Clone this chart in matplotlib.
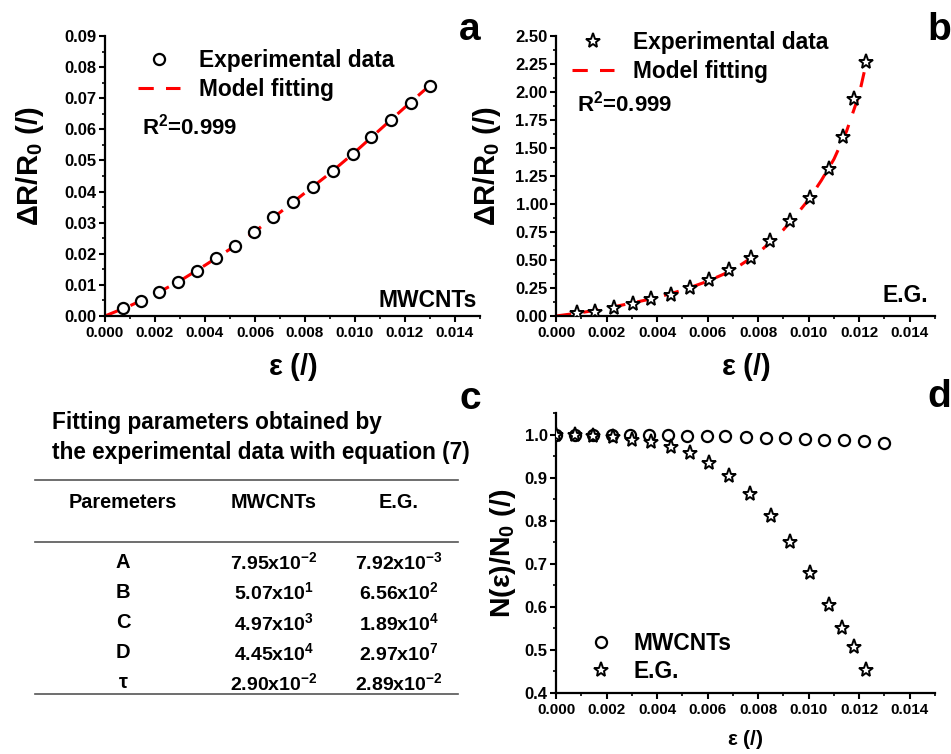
import numpy as np
import matplotlib.pyplot as plt
from matplotlib.ticker import MultipleLocator

plt.rcParams['font.family'] = ['Liberation Sans', 'DejaVu Sans']
plt.rcParams['font.weight'] = 'bold'
plt.rcParams['mathtext.default'] = 'regular'

# panel a: MWCNTs
a_x = [0.0007, 0.00142, 0.00217, 0.00291, 0.00366, 0.00443, 0.0052, 0.00594, 0.00672,
       0.00751, 0.00831, 0.00911, 0.0099, 0.01065, 0.01144, 0.01223, 0.0130]
a_y = [0.0025, 0.0049, 0.0078, 0.0110, 0.0146, 0.0186, 0.0226, 0.0271, 0.0317,
       0.0365, 0.0415, 0.0466, 0.0521, 0.0575, 0.0631, 0.0684, 0.0739]
a_fit_x = [0.0, 0.001, 0.002, 0.003, 0.004, 0.005, 0.006, 0.007, 0.008, 0.009, 0.010,
           0.011, 0.012, 0.013]
a_fit_y = [0.0, 0.0033, 0.0070, 0.0113, 0.0163, 0.0215, 0.0272, 0.0333, 0.0396, 0.0459,
           0.0527, 0.0599, 0.0671, 0.0742]

# panel b: E.G.
b_x = [0.00082, 0.00155, 0.00228, 0.00303, 0.00377, 0.00457, 0.00532, 0.00605, 0.00685,
       0.00771, 0.00848, 0.00927, 0.01007, 0.01082, 0.01135, 0.01179, 0.01225]
b_y = [0.024, 0.039, 0.068, 0.107, 0.149, 0.188, 0.253, 0.321, 0.41, 0.52, 0.673, 0.851,
       1.05, 1.31, 1.595, 1.935, 2.27]
b_fit_x = [0.0, 0.001, 0.002, 0.003, 0.004, 0.005, 0.006, 0.007, 0.008, 0.009, 0.0095,
           0.010, 0.0105, 0.011, 0.0115, 0.012, 0.0123]
b_fit_y = [0.0, 0.03, 0.07, 0.115, 0.165, 0.23, 0.31, 0.41, 0.56, 0.77, 0.90, 1.04,
           1.21, 1.40, 1.65, 1.98, 2.28]

# panel d: N(eps)/N0
d_m_x = [0.0, 0.00077, 0.00148, 0.0022, 0.00293, 0.00369, 0.00445, 0.0052, 0.00597,
         0.0067, 0.0075, 0.0083, 0.00908, 0.00987, 0.01062, 0.01141, 0.0122, 0.01297]
d_m_y = [1.0, 1.0, 1.0, 1.0, 1.0, 0.9985, 0.998, 0.9975, 0.996, 0.9955, 0.9945, 0.993,
         0.9915, 0.990, 0.988, 0.9865, 0.9845, 0.9815]
d_e_x = [0.0, 0.00077, 0.00148, 0.00225, 0.003, 0.00377, 0.00455, 0.00532, 0.00605,
         0.00685, 0.00768, 0.0085, 0.00927, 0.01006, 0.01079, 0.01132, 0.01178, 0.01225]
d_e_y = [1.0, 0.998, 0.996, 0.994, 0.988, 0.982, 0.970, 0.956, 0.934, 0.903, 0.862,
         0.810, 0.750, 0.678, 0.605, 0.551, 0.506, 0.453]

# table c
tab_cols = ["Paremeters", "MWCNTs", "E.G."]
tab_rows = ["A", "B", "C", "D", r"$\tau$"]
tab_mw = [("7.95", "-2"), ("5.07", "1"), ("4.97", "3"), ("4.45", "4"), ("2.90", "-2")]
tab_eg = [("7.92", "-3"), ("6.56", "2"), ("1.89", "4"), ("2.97", "7"), ("2.89", "-2")]

W, H = 951, 754
fig = plt.figure(figsize=(W / 100, H / 100), dpi=100)


def px_axes(l, t, r, b):
    return fig.add_axes([l / W, 1 - b / H, (r - l) / W, (b - t) / H])


def style(ax, ymaj, ymin, yfmt):
    for s in ["top", "right"]:
        ax.spines[s].set_visible(False)
    for s in ["left", "bottom"]:
        ax.spines[s].set_linewidth(1.6)
    ax.set_xlim(0, 0.015)
    ax.xaxis.set_major_locator(MultipleLocator(0.002))
    ax.xaxis.set_minor_locator(MultipleLocator(0.001))
    ax.yaxis.set_major_locator(MultipleLocator(ymaj))
    ax.yaxis.set_minor_locator(MultipleLocator(ymin))
    ax.xaxis.set_major_formatter(plt.FuncFormatter(lambda v, p: f"{v:.3f}"))
    ax.yaxis.set_major_formatter(plt.FuncFormatter(lambda v, p: yfmt.format(v)))
    ax.tick_params(which="major", direction="out", length=4, width=1.5, pad=2)
    ax.tick_params(which="minor", direction="out", length=2.5, width=1.2)
    ax.tick_params(axis="x", labelsize=11, pad=3)
    ax.tick_params(axis="y", labelsize=12)
    for lab in ax.get_xticklabels() + ax.get_yticklabels():
        lab.set_fontweight("bold")


def legend(ax, handles, labels, x, y, hl, tp, loc="upper left"):
    ax.legend(handles, labels, loc=loc, bbox_to_anchor=(x, y), frameon=False,
              fontsize=16.4, handlelength=hl, handletextpad=tp, labelspacing=0.25,
              borderpad=0, borderaxespad=0)


# ---- a
ax = px_axes(105, 36, 480, 316)
ax.plot(a_fit_x, a_fit_y, "--", color="#ff0000", lw=2.2, dashes=(5, 4), label="Model fitting", zorder=2)
ax.plot(a_x, a_y, "o", ms=8, mfc="white", mec="black", mew=1.6, label="Experimental data", zorder=3)
ax.set_ylim(0, 0.09)
style(ax, 0.01, 0.005, "{:.2f}")
ax.set_xlabel(r"$\varepsilon$ (/)", fontsize=21, fontweight="bold", labelpad=8)
ax.set_ylabel(r"$\Delta$R/R$_0$ (/)", fontsize=21, fontweight="bold", labelpad=9)
ax.yaxis.set_label_coords(-0.158, 0.535)
h, l = ax.get_legend_handles_labels()
legend(ax, h[::-1], l[::-1], 0.088, 0.953, 1.85, 0.83)
ax.text(0.099, 0.675, r"R$^2$=0.999", transform=ax.transAxes, fontsize=16, fontweight="bold",
        va="center")
ax.text(0.992, 0.057, "MWCNTs", transform=ax.transAxes, fontsize=16.5, fontweight="bold",
        ha="right", va="center")

# ---- b
ax = px_axes(556, 36, 935, 316)
ax.plot(b_fit_x, b_fit_y, "--", color="#ff0000", lw=2.2, dashes=(5, 4), label="Model fitting", zorder=2)
ax.plot(b_x, b_y, "*", ms=11, mfc="white", mec="black", mew=1.4, label="Experimental data", zorder=3)
ax.set_ylim(0, 2.5)
style(ax, 0.25, 0.125, "{:.2f}")
ax.set_xlabel(r"$\varepsilon$ (/)", fontsize=21, fontweight="bold", labelpad=8)
ax.set_ylabel(r"$\Delta$R/R$_0$ (/)", fontsize=21, fontweight="bold", labelpad=6)
ax.yaxis.set_label_coords(-0.139, 0.535)
h, l = ax.get_legend_handles_labels()
legend(ax, h[::-1], l[::-1], 0.042, 1.018, 1.85, 0.83)
ax.text(0.055, 0.757, r"R$^2$=0.999", transform=ax.transAxes, fontsize=16, fontweight="bold",
        va="center")
ax.text(0.981, 0.075, "E.G.", transform=ax.transAxes, fontsize=16.5, fontweight="bold",
        ha="right", va="center")

# ---- d
ax = px_axes(556, 413, 935, 693)
ax.plot(d_m_x, d_m_y, "o", ms=8, mfc="white", mec="black", mew=1.6, label="MWCNTs", zorder=3)
ax.plot(d_e_x, d_e_y, "*", ms=11, mfc="white", mec="black", mew=1.4, label="E.G.", zorder=3)
ax.set_ylim(0.4, 1.05)
style(ax, 0.1, 0.05, "{:.1f}")
ax.set_xlabel(r"$\varepsilon$ (/)", fontsize=15, fontweight="bold", labelpad=8)
ax.set_ylabel(r"N($\varepsilon$)/N$_0$ (/)", fontsize=20.5, fontweight="bold", labelpad=5)
h, l = ax.get_legend_handles_labels()
legend(ax, h, l, 0.09, 0.035, 1.0, 0.92, loc="lower left")

# ---- c table
fig.text(52 / W, 1 - 423 / H, "Fitting parameters obtained by", fontsize=16.3,
         fontweight="bold", va="center", ha="left")
fig.text(52 / W, 1 - 452 / H, "the experimental data with equation (7)", fontsize=16.3,
         fontweight="bold", va="center", ha="left")
for yy in [480, 542, 694]:
    fig.add_artist(plt.Line2D([35 / W, 458 / W], [1 - yy / H, 1 - yy / H], color="#555555", lw=1.2))
col_x = [123, 274, 399]
for cx, name in zip(col_x, tab_cols):
    fig.text(cx / W, 1 - 502 / H, name, fontsize=14.3, fontweight="bold", ha="center", va="center")
row_y = [562, 592, 623, 653, 683]
for ry, name, mw, eg in zip(row_y, tab_rows, tab_mw, tab_eg):
    fig.text(col_x[0] / W, 1 - ry / H, name, fontsize=14.5, fontweight="bold", ha="center", va="center")
    for cx, (m, e) in zip(col_x[1:], [mw, eg]):
        fig.text(cx / W, 1 - ry / H, f"{m}x10$^{{{e}}}$", fontsize=14, fontweight="bold",
                 ha="center", va="center")

# panel letters
for lx, ly, s in [(481, 30, "a"), (951, 30, "b"), (481, 399, "c"), (951, 397, "d")]:
    fig.text(lx / W, 1 - ly / H, s, fontsize=28, fontweight="bold", ha="right", va="center")

fig.savefig("out.png", dpi=100)
